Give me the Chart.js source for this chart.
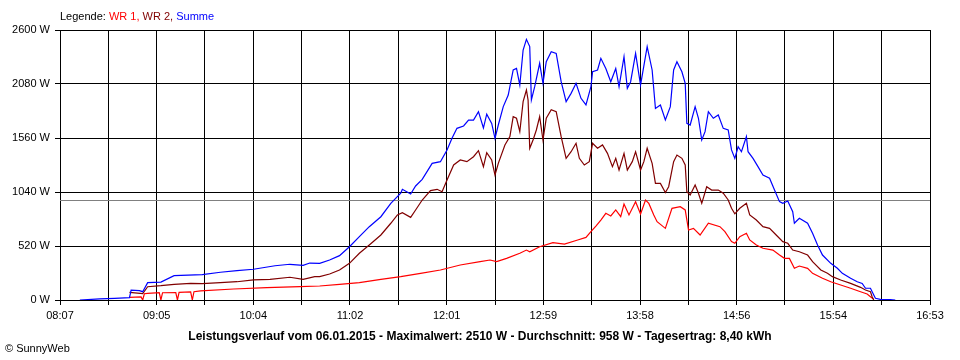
<!DOCTYPE html>
<html>
<head>
<meta charset="utf-8">
<script src="https://cdn.jsdelivr.net/npm/chart.js@4/dist/chart.umd.min.js"></script>
<style>
body { margin: 0; background: #fff; }
#wrap { position: relative; width: 960px; height: 360px; font-family: "Liberation Sans", Arial, sans-serif; color: #000; }
#chart { position: absolute; left: 0; top: 0; }
#legend { position: absolute; left: 60px; top: 10px; font-size: 11px; white-space: nowrap; }
#title { position: absolute; left: 0; top: 329px; width: 960px; text-align: center; font-size: 12px; font-weight: bold; white-space: nowrap; }
#copy { position: absolute; left: 5px; top: 342px; font-size: 11px; }
</style>
</head>
<body>
<div id="wrap">
  <canvas id="chart" width="960" height="360"></canvas>
  <div id="legend">Legende: <span style="color:#ff0000">WR 1,</span> <span style="color:#800000">WR 2,</span> <span style="color:#0000ff">Summe</span></div>
  <div id="title">Leistungsverlauf vom 06.01.2015 - Maximalwert: 2510 W - Durchschnitt: 958 W - Tagesertrag: 8,40 kWh</div>
  <div id="copy">&copy; SunnyWeb</div>
</div>
<script>
// Data (times HH:MM, values in W)
const xTickLabels = ['08:07', '', '09:05', '', '10:04', '', '11:02', '', '12:01', '', '12:59', '', '13:58', '', '14:56', '', '15:54', '', '16:53'];
const yMax = 2600;
const yStep = 520;
const avgValue = 958;

const sumTimes = ['08:19','08:31','08:40','08:49','08:50','08:55','08:57','09:00','09:08','09:16','09:33','09:44','09:54','10:04','10:17','10:26','10:34','10:38','10:44','10:50','10:56','11:02','11:08','11:14','11:21','11:27','11:33','11:34','11:39','11:42','11:46','11:52','11:57','12:01','12:04','12:07','12:11','12:14','12:17','12:20','12:23','12:25','12:28','12:30','12:32','12:35','12:38','12:41','12:43','12:45','12:47','12:49','12:51','12:52','12:54','12:57','12:59','13:01','13:04','13:07','13:10','13:13','13:16','13:19','13:22','13:25','13:28','13:29','13:32','13:34','13:37','13:40','13:43','13:45','13:48','13:50','13:52','13:55','13:58','14:02','14:05','14:07','14:10','14:13','14:16','14:18','14:20','14:23','14:25','14:26','14:28','14:31','14:33','14:35','14:37','14:39','14:42','14:45','14:48','14:51','14:53','14:55','14:57','14:59','15:02','15:03','15:06','15:09','15:12','15:16','15:19','15:22','15:24','15:27','15:30','15:31','15:34','15:39','15:42','15:45','15:48','15:53','15:57','16:00','16:05','16:09','16:12','16:14','16:17','16:19','16:20','16:23','16:29','16:32'];
const sumValues = [0,10,15,22,96,90,80,167,173,234,244,267,282,296,330,344,334,356,353,385,427,513,610,706,802,931,1028,1066,1021,1098,1162,1316,1332,1445,1557,1653,1676,1733,1733,1814,1656,1790,1700,1557,1685,1862,1974,2215,2230,2070,2407,2510,2440,1926,2054,2279,2087,2295,2391,2375,2102,1910,1990,2087,1942,1878,2054,2198,2215,2327,2230,2102,2230,2054,2343,2038,2102,2375,2070,2439,2215,1845,1878,1733,1862,2215,2295,2198,2087,1701,1685,1862,1750,1541,1621,1814,1750,1782,1653,1637,1445,1364,1476,1428,1573,1428,1364,1284,1204,1172,1059,947,931,953,850,739,787,739,642,530,433,353,305,257,209,176,160,113,113,48,16,6,5,0];

const wr2Times = ['08:49','08:57','09:00','09:08','09:16','09:26','09:33','09:44','09:54','10:04','10:14','10:26','10:34','10:41','10:44','10:50','10:56','11:02','11:08','11:14','11:21','11:27','11:31','11:34','11:39','11:42','11:46','11:51','11:55','11:58','12:01','12:05','12:09','12:13','12:17','12:20','12:23','12:25','12:28','12:30','12:32','12:36','12:39','12:41','12:43','12:45','12:47','12:49','12:50','12:51','12:53','12:55','12:57','12:59','13:01','13:04','13:07','13:10','13:13','13:16','13:19','13:21','13:24','13:27','13:29','13:32','13:35','13:38','13:41','13:43','13:45','13:48','13:50','13:53','13:55','13:58','14:00','14:02','14:05','14:07','14:10','14:13','14:15','14:18','14:20','14:23','14:25','14:26','14:28','14:31','14:33','14:35','14:38','14:41','14:45','14:48','14:51','14:53','14:55','14:58','15:02','15:04','15:08','15:12','15:16','15:20','15:24','15:27','15:30','15:34','15:39','15:42','15:47','15:51','15:54','15:59','16:05','16:11','16:14','16:17','16:18','16:19'];
const wr2Values = [74,61,128,138,151,161,157,167,176,193,199,219,199,225,225,250,289,353,450,530,626,739,819,841,796,867,963,1053,1066,1043,1156,1300,1348,1332,1380,1438,1284,1419,1348,1204,1316,1493,1573,1766,1750,1621,1910,2022,1926,1461,1541,1637,1766,1541,1750,1833,1814,1573,1364,1428,1509,1364,1300,1332,1509,1461,1493,1412,1284,1364,1252,1412,1252,1332,1428,1252,1332,1461,1316,1123,1123,1035,1091,1332,1396,1364,1300,1043,1011,1107,1028,931,1091,1059,1059,1028,963,883,830,883,931,819,770,706,690,626,562,546,481,465,433,369,289,257,225,193,160,122,96,80,32,0];

const wr1Times = ['08:49','08:56','08:57','08:58','09:00','09:07','09:08','09:09','09:17','09:18','09:19','09:26','09:27','09:28','09:32','09:52','10:12','10:32','10:44','10:56','11:08','11:21','11:33','11:45','11:57','12:09','12:21','12:27','12:31','12:37','12:45','12:49','12:51','12:57','13:05','13:12','13:20','13:25','13:28','13:31','13:34','13:37','13:40','13:43','13:46','13:48','13:51','13:55','13:58','14:01','14:03','14:06','14:08','14:13','14:17','14:22','14:25','14:27','14:30','14:34','14:39','14:46','14:49','14:53','14:55','14:58','15:02','15:04','15:08','15:12','15:18','15:22','15:25','15:28','15:31','15:34','15:39','15:42','15:48','15:53','15:59','16:05','16:11','16:15','16:17','16:19'];
const wr1Values = [26,30,0,60,64,70,0,70,72,0,74,78,0,80,87,106,119,128,135,151,167,199,225,257,289,337,369,385,369,401,450,481,465,513,552,539,578,603,658,712,770,835,809,867,803,924,819,947,828,963,930,819,754,690,883,899,867,674,690,626,739,706,658,562,546,610,642,578,530,498,481,433,401,401,305,327,305,257,209,176,144,113,80,58,32,6];

function toMin(t) {
    const [h, m] = t.split(':').map(Number);
    return h * 60 + m;
}

function points(times, values) {
    return times.map((t, i) => ({ x: toMin(t), y: values[i] }));
}

const xStart = toMin(xTickLabels[0]);
const xEnd = toMin(xTickLabels[xTickLabels.length - 1]);
const fontFamily = '"Liberation Sans", Arial, sans-serif';

const lineStyle = { pointRadius: 0, borderWidth: 1.2, tension: 0, fill: false };

new Chart(document.getElementById('chart').getContext('2d'), {
    type: 'line',
    data: {
        datasets: [
            { label: 'Summe', data: points(sumTimes, sumValues), borderColor: '#0000ff', ...lineStyle },
            { label: 'WR 2', data: points(wr2Times, wr2Values), borderColor: '#800000', ...lineStyle },
            { label: 'WR 1', data: points(wr1Times, wr1Values), borderColor: '#ff0000', ...lineStyle },
            { label: 'Durchschnitt', data: [{ x: xStart, y: avgValue }, { x: xEnd, y: avgValue }], borderColor: '#808080', pointRadius: 0, borderWidth: 1 }
        ]
    },
    options: {
        responsive: false,
        animation: false,
        devicePixelRatio: 1,
        layout: { padding: { left: 0, right: 30, top: 30, bottom: 0 } },
        plugins: { legend: { display: false }, tooltip: { enabled: false } },
        scales: {
            x: {
                type: 'linear',
                min: xStart,
                max: xEnd,
                afterBuildTicks: scale => {
                    const step = (xEnd - xStart) / (xTickLabels.length - 1);
                    scale.ticks = xTickLabels.map((l, i) => ({ value: xStart + i * step }));
                },
                afterFit: scale => { scale.height = 60; },
                grid: { color: '#000', lineWidth: 1, tickLength: 5 },
                border: { color: '#000' },
                ticks: {
                    autoSkip: false, maxRotation: 0, padding: 4, color: '#000',
                    font: { family: fontFamily, size: 11 },
                    callback: (v, i) => xTickLabels[i]
                }
            },
            y: {
                min: 0,
                max: yMax,
                afterFit: scale => { scale.width = 60; },
                grid: { color: '#000', lineWidth: 1, tickLength: 5 },
                border: { color: '#000' },
                ticks: {
                    stepSize: yStep, padding: 5, color: '#000',
                    font: { family: fontFamily, size: 11 },
                    callback: v => v + ' W'
                }
            }
        }
    }
});
</script>
</body>
</html>
